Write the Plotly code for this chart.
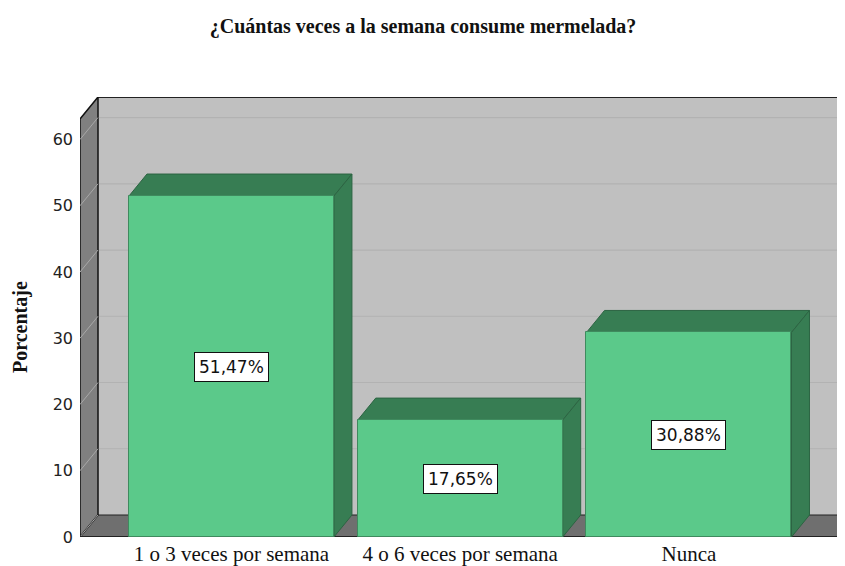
import plotly.graph_objects as go

# ---- data ----
categories = ["1 o 3 veces por semana", "4 o 6 veces por semana", "Nunca"]
percentages = [51.47, 17.65, 30.88]
y_ticks = [0, 10, 20, 30, 40, 50, 60]
title_text = "¿Cuántas veces a la semana consume mermelada?"
y_title = "Porcentaje"

# ---- styling / geometry (axis units) ----
BAR_W = 0.896
DX = 0.0787          # depth offset in x (category units)
DY = 3.32            # depth offset in y (percent units)
X0 = -0.662          # front-left x of the box
X1 = 2.662           # front-right x of the box
XMAX = 2.682
WALL_TOP = 63.1
YMAX = WALL_TOP + DY

FRONT = "#5BC98A"
DARK = "#377D53"
EDGE = "#2C6442"
BACK_WALL = "#C0C0C0"
LEFT_WALL = "#808080"
FLOOR = "#6F6F6F"

# page body has an 8px default margin; compensate so the picture sits at the window origin
OFF = 8
W, H = 845 - OFF, 566 - OFF
ML, MT, MB = 80 - OFF, 97 - OFF, 29
PW, PH = W - ML, H - MT - MB

xs = list(range(len(categories)))
fig = go.Figure()

fig.add_trace(go.Bar(
    x=xs, y=percentages, width=BAR_W,
    marker=dict(color=FRONT, line=dict(color="#3F8A5E", width=1)),
    hoverinfo="skip", showlegend=False,
))

shapes = []
# back wall
shapes.append(dict(type="path", layer="below", xref="x", yref="y",
                   path=f"M {X0+DX},{DY} L {X0+DX},{YMAX} L {X1+DX+0.2},{YMAX} L {X1+DX+0.2},{DY} Z",
                   fillcolor=BACK_WALL, line=dict(width=0)))
# back gridlines
for v in y_ticks[1:]:
    shapes.append(dict(type="line", layer="below", xref="x", yref="y",
                       x0=X0+DX, y0=v+DY, x1=X1+DX+0.2, y1=v+DY,
                       line=dict(color="#B2B2B2", width=1.2)))
# back wall top edge
shapes.append(dict(type="line", layer="below", xref="x", yref="y",
                   x0=X0+DX, y0=YMAX, x1=X1+DX+0.2, y1=YMAX,
                   line=dict(color="#222222", width=2)))
# floor
shapes.append(dict(type="path", layer="below", xref="x", yref="y",
                   path=f"M {X0},0 L {X1},0 L {X1+DX},{DY} L {X0+DX},{DY} Z",
                   fillcolor=FLOOR, line=dict(color="#222222", width=1)))
# left wall
shapes.append(dict(type="path", layer="below", xref="x", yref="y",
                   path=f"M {X0},0 L {X0},{WALL_TOP} L {X0+DX},{YMAX} L {X0+DX},{DY} Z",
                   fillcolor=LEFT_WALL, line=dict(color="#111111", width=1.5)))
# left wall tick lines
for v in y_ticks:
    shapes.append(dict(type="line", layer="below", xref="x", yref="y",
                       x0=X0, y0=v, x1=X0+DX, y1=v+DY,
                       line=dict(color="#A8A8A8", width=1)))
# front floor edge
shapes.append(dict(type="line", layer="below", xref="x", yref="y",
                   x0=X0, y0=0, x1=X1, y1=0,
                   line=dict(color="#222222", width=2)))

# bar tops and sides
for x, v in zip(xs, percentages):
    l, r = x - BAR_W / 2, x + BAR_W / 2
    shapes.append(dict(type="path", layer="below", xref="x", yref="y",
                       path=f"M {l},{v} L {r},{v} L {r+DX},{v+DY} L {l+DX},{v+DY} Z",
                       fillcolor=DARK, line=dict(color=EDGE, width=1)))
    shapes.append(dict(type="path", layer="below", xref="x", yref="y",
                       path=f"M {r},0 L {r},{v} L {r+DX},{v+DY} L {r+DX},{DY} Z",
                       fillcolor=DARK, line=dict(color=EDGE, width=1)))

annotations = []
for x, v in zip(xs, percentages):
    annotations.append(dict(
        x=x, y=v / 2, xref="x", yref="y",
        text=f"{v:.2f}".replace(".", ",") + "%",
        showarrow=False, bgcolor="white", bordercolor="#111111", borderwidth=1,
        borderpad=4, font=dict(family="DejaVu Sans", size=17, color="#111111"),
    ))
annotations.append(dict(
    x=(20 - 80) / PW, y=(537 - 327) / PH, xref="paper", yref="paper",
    xanchor="center", yanchor="middle", text=f"<b>{y_title}</b>",
    showarrow=False, textangle=-90,
    font=dict(family="Liberation Serif", size=20, color="#111111"),
))

fig.update_layout(
    width=W, height=H,
    margin=dict(l=ML, r=0, t=MT, b=MB, autoexpand=False),
    paper_bgcolor="white", plot_bgcolor="white",
    title=dict(text=f"<b>{title_text}</b>", x=(423 - OFF) / W, xanchor="center",
               y=1 - (26 - OFF) / H, yanchor="middle",
               font=dict(family="Liberation Serif", size=20, color="#111111")),
    xaxis=dict(range=[X0, XMAX], tickvals=xs, ticktext=categories, showgrid=False,
               zeroline=False, showline=False, ticks="", automargin=False, ticklabelstandoff=2,
               tickfont=dict(family="Liberation Serif", size=21, color="#111111")),
    yaxis=dict(range=[0, YMAX], tickvals=y_ticks, showgrid=False, zeroline=False,
               showline=False, ticks="", ticklabelstandoff=6, automargin=False,
               tickfont=dict(family="DejaVu Sans", size=16, color="#222222")),
    shapes=shapes, annotations=annotations, bargap=0,
)

fig.write_html("out.html")
